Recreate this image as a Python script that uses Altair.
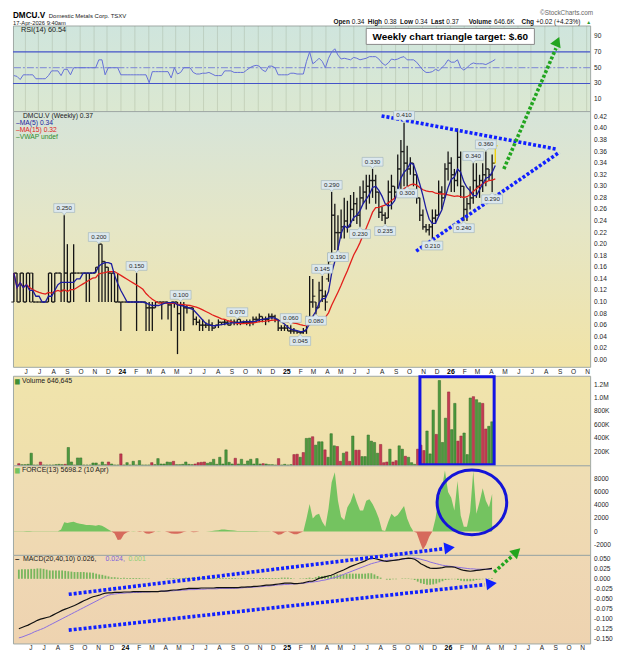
import altair as alt
import pandas as pd

# ------------------------------------------------------------------ data
N_WEEKS = 154
dates = pd.date_range(end="2026-04-13", periods=N_WEEKS, freq="7D").strftime("%Y-%m-%d").tolist()
months = pd.date_range("2023-06-01", "2026-11-01", freq="MS").strftime("%Y-%m-%d").tolist()

high = [
    .15, .15, .15, .15, .15, .15, .15, .10, .10, .10,
    .10, .15, .15, .15, .15, .15, .25, .20, .15, .20,
    .15, .15, .15, .15, .15, .15, .16, .20, .20, .17,
    .16, .15, .15, .15, .10, .10, .10, .10, .10, .15,
    .10, .10, .10, .10, .10, .10, .10, .10, .10, .10,
    .10, .10, .10, .10, .10, .095, .09, .09, .075, .07,
    .07, .065, .07, .065, .06, .07, .065, .07, .068, .07,
    .07, .07, .07, .068, .07, .07, .075, .075, .08, .075,
    .075, .08, .08, .078, .07, .06, .06, .06, .06, .055,
    .05, .05, .055, .076, .145, .14, .10, .135, .145, .12,
    .185, .29, .27, .25, .26, .28, .275, .285, .29, .28,
    .30, .31, .32, .32, .33, .32, .29, .265, .255, .31,
    .32, .30, .355, .38, .41, .37, .35, .34, .32, .28,
    .26, .235, .235, .26, .26, .31, .30, .34, .36, .35,
    .33, .40, .36, .30, .28, .30, .34, .34, .32, .34,
    .36, .33, .355, .38]
low = [
    .10, .10, .10, .10, .10, .10, .10, .10, .10, .10,
    .10, .10, .10, .10, .15, .10, .10, .10, .10, .10,
    .15, .15, .15, .10, .10, .15, .15, .10, .10, .10,
    .10, .10, .10, .10, .05, .10, .10, .10, .10, .05,
    .10, .10, .05, .05, .05, .09, .10, .07, .10, .07,
    .05, .09, .01, .05, .05, .08, .09, .06, .06, .05,
    .05, .055, .05, .05, .055, .055, .06, .06, .06, .06,
    .06, .06, .06, .062, .06, .058, .06, .065, .065, .065,
    .06, .065, .07, .065, .05, .05, .05, .05, .045, .045,
    .045, .045, .045, .045, .06, .09, .078, .09, .10, .085,
    .135, .18, .19, .19, .21, .21, .22, .23, .24, .235,
    .23, .27, .26, .27, .28, .27, .245, .24, .235, .245,
    .26, .28, .29, .29, .30, .30, .32, .30, .27, .24,
    .225, .22, .215, .21, .235, .25, .26, .28, .31, .29,
    .29, .30, .28, .24, .24, .26, .27, .28, .28, .29,
    .30, .31, .29, .34]
open_ = [
    .10, .15, .10, .15, .10, .15, .15, .10, .10, .10,
    .10, .10, .15, .10, .15, .15, .12, .15, .10, .15,
    .15, .15, .15, .15, .15, .15, .15, .16, .20, .17,
    .16, .15, .15, .10, .10, .10, .10, .10, .10, .10,
    .10, .10, .10, .09, .09, .09, .10, .10, .10, .10,
    .095, .10, .10, .08, .095, .09, .09, .09, .07, .065,
    .06, .06, .06, .06, .055, .06, .065, .065, .065, .06,
    .065, .065, .07, .065, .065, .065, .065, .07, .07, .075,
    .07, .07, .075, .075, .07, .055, .055, .055, .05, .05,
    .05, .048, .047, .05, .07, .10, .10, .09, .12, .11,
    .14, .18, .25, .22, .22, .23, .24, .23, .26, .27,
    .25, .28, .29, .30, .31, .31, .29, .255, .25, .245,
    .29, .30, .29, .33, .36, .34, .33, .34, .32, .28,
    .25, .23, .225, .23, .245, .25, .29, .28, .33, .34,
    .32, .31, .35, .30, .26, .27, .28, .31, .30, .31,
    .32, .33, .32, .34]
close = [
    .15, .10, .15, .10, .15, .10, .10, .10, .10, .10,
    .10, .15, .10, .15, .15, .12, .15, .10, .15, .15,
    .15, .15, .15, .15, .15, .15, .16, .20, .17, .16,
    .15, .15, .10, .10, .10, .10, .10, .10, .10, .10,
    .10, .10, .09, .09, .09, .10, .10, .10, .10, .095,
    .10, .10, .08, .095, .09, .09, .09, .07, .065, .06,
    .06, .06, .06, .055, .06, .065, .065, .065, .06, .065,
    .065, .07, .065, .065, .065, .065, .07, .07, .075, .07,
    .07, .075, .075, .07, .055, .055, .055, .05, .05, .05,
    .048, .047, .05, .07, .10, .11, .09, .12, .11, .10,
    .17, .25, .22, .22, .23, .24, .23, .26, .27, .25,
    .28, .29, .30, .31, .31, .29, .255, .25, .245, .29,
    .30, .29, .33, .36, .34, .33, .34, .32, .28, .25,
    .23, .225, .23, .245, .25, .29, .28, .33, .34, .32,
    .31, .35, .30, .26, .27, .28, .31, .30, .31, .32,
    .33, .32, .34, .37]

volume_k = [
    25, 10, 10, 15, 180, 5, 5, 50, 5, 5,
    5, 5, 10, 15, 10, 15, 265, 50, 5, 110,
    110, 5, 5, 5, 35, 35, 5, 50, 10, 50,
    20, 5, 5, 170, 5, 40, 5, 60, 5, 70,
    5, 5, 5, 40, 10, 100, 20, 20, 50, 45,
    60, 10, 10, 15, 50, 15, 10, 20, 40, 45,
    50, 30, 45, 90, 15, 120, 20, 230, 45, 20,
    105, 20, 90, 15, 65, 90, 20, 100, 20, 25,
    20, 10, 10, 5, 100, 5, 15, 5, 10, 160,
    165, 120, 190, 400, 405, 425, 300, 350, 350, 230,
    120, 470, 290, 280, 60, 180, 200, 60, 435, 225,
    225, 130, 130, 450, 360, 340, 180, 310, 40, 50,
    240, 50, 70, 290, 240, 135, 120, 40, 15, 240,
    300, 220, 510, 170, 820, 460, 1260, 340, 700, 1090,
    530, 920, 360, 435, 480, 160, 1000, 1020, 975, 930,
    920, 540, 580, 646.645]
vol_dir = list(
    "rggggggrgg" "gggggrgggg" "gggggggggr" "gggrgggggg" "gggrgggggg"
    "rggggggrrr" "rggggggggg" "rggggggggr" "ggggrggggr" "rgrggrgggr"
    "gggrrgrrgr" "rggggggrrr" "grrggrgggr" "rrgggrgggr" "ggrrgggrgg" "rrgg")

force = [
    50, 50, 50, 50, 80, 80, 60, 40, 40, 40,
    40, 40, 50, 50, 60, 300, 1400, 1300, 1400, 1500,
    1300, 1200, 1100, 1000, 1000, 950, 900, 1000, 900, 600,
    300, 50, -300, -1300, -1200, -400, -100, 0, 50, 0,
    -50, 0, -300, -350, -200, 0, 50, 0, 0, -100,
    -300, -350, -350, -250, -50, 0, 0, -100, -50, 0,
    0, 0, 50, 100, 150, 200, 300, 300, 250, 200,
    150, 100, 100, 100, 80, 100, 100, 80, 50, 50,
    50, 30, 0, -200, -500, -400, -100, 0, -200, -400,
    -400, -200, 0, 2000, 4200, 2000, 2500, 2700, 1500, 740,
    3500, 7500, 9000, 4700, 2200, 1700, 3700, 4500, 5900, 4400,
    3200, 3200, 4700, 4900, 4200, 3200, 2000, 200, 100, 1500,
    2700, 2200, 2500, 3200, 3900, 2000, 800, 0, -200, -1500,
    -2770, -2000, -800, 0, 2000, 5150, 6500, 9300, 6000, 5150,
    3200, 7700, 2450, 740, 740, 3000, 9200, 2700, 4500, 6600,
    4700, 3700, 5698.2]

rsi = [
    40, 39, 35, 41, 41, 41, 41, 36, 36, 36,
    36, 40, 46, 46, 46, 40, 48, 48, 41, 50,
    50, 50, 50, 50, 50, 50, 50, 60, 60, 41,
    50, 50, 50, 50, 41, 41, 41, 41, 41, 41,
    41, 41, 41, 31, 45, 45, 45, 45, 45, 45,
    37, 50, 42, 44, 50, 50, 50, 44, 42, 42,
    43, 43, 44, 42, 40, 40, 40, 46, 46, 46,
    44, 44, 44, 44, 47, 50, 52, 53, 52, 47,
    45, 52, 52, 50, 41, 41, 41, 41, 43, 43,
    42, 42, 42, 58, 70, 55, 58, 62, 58, 50,
    62, 70, 74, 66, 61, 62, 61, 60, 63, 62,
    60, 61, 62, 64, 64, 64, 61, 56, 53, 56,
    61, 60, 61, 63, 64, 60, 60, 60, 57, 52,
    47, 44, 44, 45, 48, 46, 50, 54, 60, 57,
    57, 60, 50, 47, 50, 54, 56, 55, 55, 55,
    54, 56, 58, 60.54]

macd = [
    -.125, -.122, -.119, -.116, -.112, -.108, -.104, -.101, -.099, -.097,
    -.095, -.091, -.087, -.083, -.079, -.076, -.073, -.070, -.067, -.063,
    -.059, -.055, -.052, -.048, -.045, -.043, -.041, -.038, -.036, -.035,
    -.035, -.034, -.034, -.034, -.033, -.033, -.033, -.032, -.032, -.032,
    -.032, -.032, -.032, -.032, -.032, -.032, -.031, -.031, -.030, -.029,
    -.028, -.028, -.027, -.026, -.025, -.024, -.024, -.024, -.024, -.023,
    -.023, -.023, -.023, -.023, -.022, -.022, -.022, -.022, -.022, -.022,
    -.022, -.022, -.021, -.021, -.020, -.020, -.019, -.019, -.018, -.017,
    -.016, -.016, -.015, -.014, -.013, -.012, -.011, -.011, -.011, -.012,
    -.012, -.011, -.010, -.008, -.006, -.006, -.003, .001, .003, .005,
    .007, .009, .012, .016, .019, .022, .026, .030, .033, .036,
    .039, .042, .045, .049, .052, .051, .049, .047, .045, .044,
    .045, .046, .047, .048, .050, .051, .052, .051, .049, .044,
    .038, .034, .030, .027, .026, .026, .027, .028, .030, .030,
    .030, .029, .026, .023, .021, .020, .019, .020, .021, .022,
    .023, .024, .025, .026]
signal = [
    -.148, -.146, -.143, -.140, -.137, -.133, -.130, -.127, -.124, -.120,
    -.116, -.112, -.108, -.104, -.100, -.096, -.092, -.088, -.084, -.080,
    -.076, -.072, -.068, -.064, -.060, -.056, -.052, -.048, -.044, -.041,
    -.039, -.038, -.037, -.036, -.036, -.035, -.035, -.034, -.034, -.034,
    -.033, -.033, -.033, -.032, -.032, -.032, -.031, -.031, -.031, -.030,
    -.030, -.029, -.029, -.028, -.028, -.027, -.027, -.027, -.026, -.026,
    -.026, -.025, -.025, -.025, -.025, -.024, -.024, -.024, -.024, -.024,
    -.024, -.023, -.023, -.022, -.022, -.021, -.021, -.020, -.020, -.019,
    -.018, -.018, -.017, -.016, -.015, -.015, -.014, -.014, -.013, -.013,
    -.012, -.012, -.011, -.010, -.009, -.008, -.007, -.006, -.004, -.003,
    -.001, .001, .003, .005, .008, .011, .014, .017, .020, .023,
    .026, .029, .032, .035, .038, .040, .042, .044, .045, .046,
    .047, .047, .048, .048, .049, .050, .051, .052, .052, .051,
    .049, .047, .045, .042, .040, .038, .036, .034, .033, .032,
    .031, .030, .029, .028, .027, .026, .025, .025, .024, .024,
    .024, .024, .024, .024]

# labelled swing highs ("up") and lows ("dn"): week index, printed value
label_idx = [16, 27, 39, 53, 71, 88, 98, 101, 114, 124, 146, 150,
             91, 96, 103, 110, 118, 125, 133, 143, 152]
label_val = [.250, .200, .150, .100, .070, .060, .145, .290, .330, .410, .340, .360,
             .045, .080, .190, .230, .235, .300, .210, .240, .290]
label_side = ["up"] * 12 + ["dn"] * 9

# drawn annotations (date, value)
tri_grp = ["upper", "upper", "lower", "lower"]
tri_date = ["2025-08-03", "2026-08-29", "2025-10-19", "2026-09-03"]
tri_val = [0.4217, 0.364, 0.188, 0.359]
parrow_date = ["2026-05-02", "2026-08-26"]
parrow_val = [0.330, 0.5385]
parrow_head = ("2026-08-29", 0.5504)

macd_arrow_grp = ["up", "up", "lo", "lo"]
macd_arrow_date = ["2023-08-29", "2025-12-22", "2023-08-29", "2026-03-27"]
macd_arrow_val = [-0.0388, 0.0752, -0.1286, -0.0146]
macd_heads_date = ["2026-01-07", "2026-04-12"]
macd_heads_val = [0.0777, -0.0121]
garrow_date = ["2026-04-18", "2026-05-30"]
garrow_val = [0.017, 0.058]
garrow_head = ("2026-06-08", 0.068)

vbox = ("2025-11-01", "2026-04-18", 8000, 1315000)
force_ring = ("2026-02-20", 4444)

price_ticks = [round(i * 0.02, 2) for i in range(22)]
vol_ticks = [200000 * i for i in range(1, 7)]
force_ticks = [-2000, 0, 2000, 4000, 6000, 8000]
macd_ticks = [round(-0.15 + 0.025 * i, 3) for i in range(9)]
rsi_ticks = [10, 30, 50, 70, 90]

# ------------------------------------------------------------------ frames
df = pd.DataFrame({
    "date": dates, "idx": list(range(N_WEEKS)), "open": open_, "high": high,
    "low": low, "close": close, "vol": [v * 1000 for v in volume_k], "dir": vol_dir,
    "rsi": rsi, "macd": macd, "signal": signal})
fdf = pd.DataFrame({"date": dates[:len(force)], "force": force})
labdf = pd.DataFrame({"date": [dates[i] for i in label_idx], "v": label_val, "side": label_side})
tridf = pd.DataFrame({"date": tri_date, "v": tri_val, "g": tri_grp})
pardf = pd.DataFrame({"date": parrow_date, "v": parrow_val})
pheaddf = pd.DataFrame({"date": [parrow_head[0]], "v": [parrow_head[1]]})
madf = pd.DataFrame({"date": macd_arrow_date, "v": macd_arrow_val, "g": macd_arrow_grp})
mheaddf = pd.DataFrame({"date": macd_heads_date, "v": macd_heads_val})
gadf = pd.DataFrame({"date": garrow_date, "v": garrow_val})
gheaddf = pd.DataFrame({"date": [garrow_head[0]], "v": [garrow_head[1]]})
vboxdf = pd.DataFrame({"d1": [vbox[0]], "d2": [vbox[1]], "v1": [vbox[2]], "v2": [vbox[3]]})
ringdf = pd.DataFrame({"date": [force_ring[0]], "v": [force_ring[1]]})
mdf = pd.DataFrame({"date": months})
ONE = pd.DataFrame({"k": [0]})

# ------------------------------------------------------------------ helpers
W = 580
H_RSI, H_PRICE, H_GAP, H_VOL, H_FORCE, H_MACD = 86, 257, 9, 90, 90, 89
GRID = "#6f7a5e"
FONT = "Liberation Sans"
LCOL = "#1e1e1e"
LSIZE = 6.6

XS = alt.Scale(type="utc", domain=[alt.DateTime(year=2023, month=5, date=6, utc=True),
                                   alt.DateTime(year=2026, month=11, date=10, utc=True)])
XG = alt.X("date:T", scale=XS, axis=alt.Axis(
    title=None, grid=True, gridColor=GRID, gridOpacity=0.2, domain=False, ticks=False,
    labels=False, tickCount={"interval": "month", "step": 1}))
XN = alt.X("date:T", scale=XS, axis=None)


def YG(field, scale, values):
    return alt.Y(field, scale=scale, axis=alt.Axis(
        title=None, orient="right", values=values, grid=True, gridColor=GRID,
        gridOpacity=0.2, domain=False, ticks=False, labels=False))


def ylabels(values, scale, expr):
    return alt.Chart(pd.DataFrame({"v": values})).transform_calculate(t=expr).mark_text(
        align="left", baseline="middle", fontSize=LSIZE, font=FONT, color=LCOL, dx=4).encode(
        x=alt.value(W), y=alt.Y("v:Q", scale=scale, axis=None), text="t:N")


def month_labels(y):
    jan = "utcFormat(toDate(datum.date),'%m')=='01'"
    base = alt.Chart(mdf).transform_calculate(
        t="utcFormat(toDate(datum.date),'%m')=='01' ? utcFormat(toDate(datum.date),'%y') : "
          "substring(utcFormat(toDate(datum.date),'%b'),0,1)")
    reg = base.transform_filter("!(" + jan + ")").mark_text(
        fontSize=LSIZE, font=FONT, color=LCOL, baseline="middle", dx=1.5).encode(
        x=XN, y=alt.value(y), text="t:N")
    bold = base.transform_filter(jan).mark_text(
        fontSize=LSIZE + 0.4, font=FONT, color="#000", fontWeight="bold", baseline="middle",
        dx=1.5).encode(x=XN, y=alt.value(y), text="t:N")
    return [reg, bold]


def grad(stops):
    s = ",".join("{offset:%s,color:'%s'}" % (o, c) for o, c in stops)
    return alt.ExprRef(expr="{gradient:'linear',x1:0,y1:0,x2:0,y2:1,stops:[" + s + "]}")


def view(stops):
    return alt.ViewBackground(fill=grad(stops), stroke="#9fa8a4", strokeWidth=1)


def txt(t, x, y, size=7.0, color="#1a1a1a", weight="normal", align="left", font=FONT):
    return alt.Chart(ONE).mark_text(text=t, align=align, baseline="middle", fontSize=size,
                                    color=color, fontWeight=weight, font=font).encode(
        x=alt.value(x), y=alt.value(y))


MINUS = "replace(format(datum.v,'%s'),'\u2212','-')"

# ------------------------------------------------------------------ RSI panel
RS = alt.Scale(domain=[-5, 103.5], nice=False, zero=False)
rsi_lv = alt.Chart(pd.DataFrame({"lvl": [30, 70]})).mark_rule(
    color="#4453c8", strokeWidth=1.2).encode(y=alt.Y("lvl:Q", scale=RS, axis=None))
rsi_mid = alt.Chart(pd.DataFrame({"lvl": [50]})).mark_rule(
    color="#7b84d6", strokeWidth=1, strokeDash=[7, 2, 2, 2]).encode(
    y=alt.Y("lvl:Q", scale=RS, axis=None))
rsi_line = alt.Chart(df).mark_line(color="#6570d8", strokeWidth=1).encode(
    x=XG, y=YG("rsi:Q", RS, rsi_ticks))
tbox = alt.Chart(ONE).mark_rect(fill="white", stroke="#8a8a8a", strokeWidth=1).encode(
    x=alt.value(355), x2=alt.value(524), y=alt.value(3), y2=alt.value(19))
head = [
    txt("Weekly chart triangle target: $.60", 439.5, 11.5, 10, "#000", "bold", "center"),
    txt("RSI(14) 60.54", 8, 4.5, 7.3),
    txt("DMCU.V", 0, -10, 8.2, "#000", "bold"),
    txt("Domestic Metals Corp.  TSXV", 36, -9.5, 6.0, "#222"),
    txt("17-Apr-2026 9:40am", 0, -2.2, 5.8, "#222"),
    txt("\u00a9StockCharts.com", 583, -12.5, 6.4, "#666", "normal", "right"),
]
hx = [("Open", 322, "bold"), ("0.34", 340.5, "normal"), ("High", 356.5, "bold"),
      ("0.38", 373, "normal"), ("Low", 389, "bold"), ("0.34", 404, "normal"),
      ("Last", 420, "bold"), ("0.37", 435.5, "normal"), ("Volume", 458, "bold"),
      ("646.6K", 483.5, "normal"), ("Chg", 511, "bold"), ("+0.02 (+4.23%)", 525.5, "normal")]
for t, x, wgt in hx:
    head.append(txt(t, x, -4, 6.5, "#111", wgt))
head.append(txt("\u25b2", 576, -4, 5, "#2a9a2a"))

rsi_panel = alt.layer(rsi_lv, rsi_mid, rsi_line, tbox, *head,
                      ylabels(rsi_ticks, RS, "format(datum.v,'d')")).properties(
    width=W, height=H_RSI,
    view=view([(0, "#cfe5dd"), (1, "#dbe8d1")]))

# ------------------------------------------------------------------ price panel
PS = alt.Scale(domain=[-0.012, 0.43], nice=False, zero=False)
barcol = alt.condition("datum.idx == 153", alt.value("#f2d000"), alt.value("#141414"))
hl = alt.Chart(df).mark_rule(strokeWidth=1.3).encode(
    x=XG, y=YG("low:Q", PS, price_ticks), y2="high:Q", color=barcol)
otk = alt.Chart(df).mark_tick(orient="horizontal", size=2.6, thickness=1.3, xOffset=-1.3).encode(
    x=XN, y=alt.Y("open:Q", scale=PS, axis=None), color=barcol)
ctk = alt.Chart(df).mark_tick(orient="horizontal", size=2.6, thickness=1.3, xOffset=1.3).encode(
    x=XN, y=alt.Y("close:Q", scale=PS, axis=None), color=barcol)
ma15 = alt.Chart(df).transform_window(
    ma="mean(close)", frame=[-14, 0], sort=[alt.SortField("date")]).mark_line(
    color="#e2201c", strokeWidth=1.3).encode(x=XN, y=alt.Y("ma:Q", scale=PS, axis=None))
ma5 = alt.Chart(df).transform_window(
    ma="mean(close)", frame=[-4, 0], sort=[alt.SortField("date")]).mark_line(
    color="#1c1c9e", strokeWidth=1.3).encode(x=XN, y=alt.Y("ma:Q", scale=PS, axis=None))

BOX_UP = "M-1,-0.42L1,-0.42L1,0.42L0.2,0.42L0,0.66L-0.2,0.42L-1,0.42Z"
BOX_DN = "M-1,0.42L1,0.42L1,-0.42L0.2,-0.42L0,-0.66L-0.2,-0.42L-1,-0.42Z"
lab_layers = []
for side, shape, off in (("up", BOX_UP, -7.2), ("dn", BOX_DN, 7.2)):
    base = alt.Chart(labdf).transform_filter(alt.datum.side == side)
    lab_layers.append(base.mark_point(shape=shape, size=441, filled=True, fill="#dce8ee",
                                      stroke="#9db2bc", strokeWidth=0.6, opacity=1,
                                      yOffset=off).encode(
        x=XN, y=alt.Y("v:Q", scale=PS, axis=None)))
    lab_layers.append(base.transform_calculate(t="format(datum.v,'.3f')").mark_text(
        fontSize=6.2, color="#2a2a2a", font=FONT, yOffset=off, baseline="middle").encode(
        x=XN, y=alt.Y("v:Q", scale=PS, axis=None), text="t:N"))

tri = alt.Chart(tridf).mark_line(color="#1020ff", strokeWidth=3.6, strokeDash=[3, 2]).encode(
    x=XN, y=alt.Y("v:Q", scale=PS, axis=None), detail="g:N")
parrow = alt.Chart(pardf).mark_line(color="#22a51f", strokeWidth=3.6, strokeDash=[3, 2]).encode(
    x=XN, y=alt.Y("v:Q", scale=PS, axis=None))
phead = alt.Chart(pheaddf).mark_point(shape="triangle-up", size=130, filled=True,
                                      color="#22a51f", opacity=1, angle=23).encode(
    x=XN, y=alt.Y("v:Q", scale=PS, axis=None))
plegend = [
    txt("DMCU.V (Weekly) 0.37", 10, 5, 6.8),
    txt("\u2013MA(5) 0.34", 3, 12, 6.8, "#1c1c9e"),
    txt("\u2013MA(15) 0.32", 3, 19, 6.8, "#e2201c"),
    txt("\u2013VWAP undef", 3, 26, 6.8, "#2e8b2e"),
]
price_panel = alt.layer(hl, otk, ctk, ma15, ma5, tri, *lab_layers, parrow, phead,
                        *plegend, ylabels(price_ticks, PS, "format(datum.v,'.2f')"),
                        *month_labels(H_PRICE + 4.8)).properties(
    width=W, height=H_PRICE,
    view=view([(0, "#d6e4d9"), (0.45, "#e5e6c6"), (1, "#f1e3a6")]))

gap = alt.Chart(ONE).mark_point(opacity=0).encode(x=alt.value(0), y=alt.value(0)).properties(
    width=W, height=H_GAP, view=alt.ViewBackground(strokeOpacity=0, fillOpacity=0))

# ------------------------------------------------------------------ volume panel
VS = alt.Scale(domain=[0, 1330000], nice=False, zero=False)
VEXPR = "datum.v>=1e6 ? format(datum.v/1e6,'.1f')+'M' : format(datum.v/1e3,'d')+'K'"
vbars = alt.Chart(df).mark_bar(width=2.4, strokeWidth=0.5).encode(
    x=XG, y=YG("vol:Q", VS, vol_ticks), y2=alt.datum(0),
    color=alt.condition("datum.dir == 'g'", alt.value("#4c9a3e"), alt.value("#c53a52")),
    stroke=alt.condition("datum.dir == 'g'", alt.value("#2f6a28"), alt.value("#8c2236")))
vrect = alt.Chart(vboxdf).mark_rect(fillOpacity=0, stroke="#1414e4", strokeWidth=3).encode(
    x=alt.X("d1:T", scale=XS, axis=None), x2="d2:T",
    y=alt.Y("v1:Q", scale=VS, axis=None), y2="v2:Q")
vol_panel = alt.layer(vbars, vrect, txt("\u2586", 2, 5, 6, "#3f8f35", font="DejaVu Sans"),
                      txt("Volume 646,645", 9, 5, 7.0),
                      ylabels(vol_ticks, VS, VEXPR)).properties(
    width=W, height=H_VOL, view=view([(0, "#f0e4ac"), (1, "#efdfac")]))

# ------------------------------------------------------------------ force panel
FS = alt.Scale(domain=[-3550, 10070], nice=False, zero=False)
fbase = alt.Chart(fdf).transform_calculate(pos="max(datum.force,0)", neg="min(datum.force,0)")
fpos = fbase.mark_area(color="#74c360", opacity=1).encode(
    x=XG, y=YG("pos:Q", FS, force_ticks), y2=alt.datum(0))
fneg = fbase.mark_area(color="#d66a5c", opacity=1).encode(
    x=XN, y=alt.Y("neg:Q", scale=FS, axis=None), y2=alt.datum(0))
ELL = "M-1,0A1,0.93 0 1,0 1,0A1,0.93 0 1,0 -1,0Z"
ring = alt.Chart(ringdf).mark_point(shape=ELL, size=4900, filled=False, stroke="#1414d8",
                                    strokeWidth=3, opacity=1).encode(
    x=XN, y=alt.Y("v:Q", scale=FS, axis=None))
force_panel = alt.layer(fpos, fneg, ring,
                        txt("\u2586", 2, 5, 6, "#74c360", font="DejaVu Sans"),
                        txt("FORCE(13) 5698.2 (10 Apr)", 9, 5, 7.0),
                        ylabels(force_ticks, FS, MINUS % "d")).properties(
    width=W, height=H_FORCE, view=view([(0, "#efdeb3"), (1, "#efd8b2")]))

# ------------------------------------------------------------------ MACD panel
MS = alt.Scale(domain=[-0.162, 0.06], nice=False, zero=False)
hist = alt.Chart(df).transform_calculate(h="datum.macd - datum.signal").mark_bar(
    width=1.8, color="#78b65d").encode(
    x=XG, y=YG("h:Q", MS, macd_ticks), y2=alt.datum(0))
sig = alt.Chart(df).mark_line(color="#8a6ee0", strokeWidth=1).encode(
    x=XN, y=alt.Y("signal:Q", scale=MS, axis=None))
mline = alt.Chart(df).mark_line(color="#111", strokeWidth=1.2).encode(
    x=XN, y=alt.Y("macd:Q", scale=MS, axis=None))
marrows = alt.Chart(madf).mark_line(color="#1020ff", strokeWidth=3.6, strokeDash=[3, 2]).encode(
    x=XN, y=alt.Y("v:Q", scale=MS, axis=None), detail="g:N")
mheads = alt.Chart(mheaddf).mark_point(shape="triangle-right", size=150, filled=True,
                                       color="#1020ff", opacity=1, angle=353).encode(
    x=XN, y=alt.Y("v:Q", scale=MS, axis=None))
garrow = alt.Chart(gadf).mark_line(color="#22a51f", strokeWidth=3.6, strokeDash=[3, 2]).encode(
    x=XN, y=alt.Y("v:Q", scale=MS, axis=None))
ghead = alt.Chart(gheaddf).mark_point(shape="triangle-up", size=130, filled=True,
                                      color="#22a51f", opacity=1, angle=47).encode(
    x=XN, y=alt.Y("v:Q", scale=MS, axis=None))
macd_panel = alt.layer(hist, sig, mline, marrows, mheads, garrow, ghead,
                       txt("\u2013", 2, 4, 8, "#111", "bold"),
                       txt("MACD(20,40,10) 0.026,", 10, 4, 7.0),
                       txt("0.024,", 93, 4, 7.0, "#7d62dc"),
                       txt("0.001", 116, 4, 7.0, "#8fcf78"),
                       ylabels(macd_ticks, MS, MINUS % ".3f"),
                       *month_labels(H_MACD + 4.8)).properties(
    width=W, height=H_MACD, view=view([(0, "#efd8b4"), (1, "#eed3b0")]))

# ------------------------------------------------------------------ assemble
chart = alt.vconcat(rsi_panel, price_panel, gap, vol_panel, force_panel, macd_panel,
                    spacing=0, bounds="flush").resolve_scale(
    x="independent", y="independent").properties(
    padding={"left": 2, "top": 0, "right": 2, "bottom": 0}).configure(font=FONT)

chart.save("out.html", embed_options={"renderer": "svg", "actions": False})
